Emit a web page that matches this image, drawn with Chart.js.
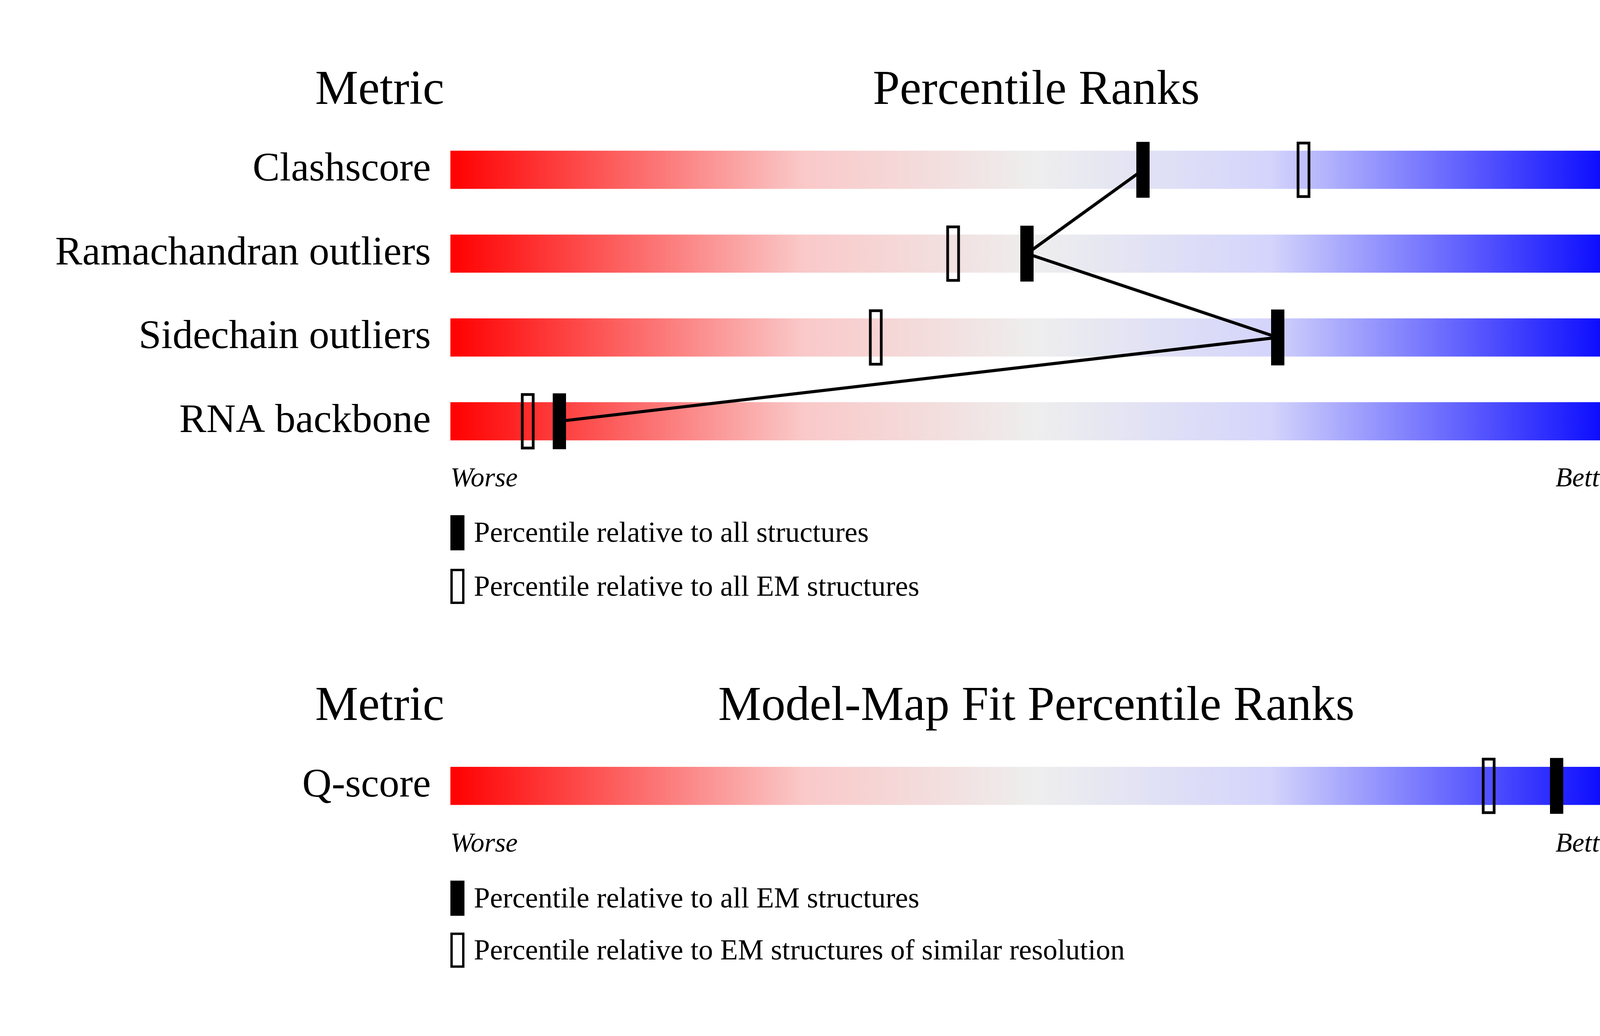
<!DOCTYPE html>
<html><head><meta charset="utf-8">
<script src="https://cdn.jsdelivr.net/npm/chart.js@4"></script>
<style>html,body{margin:0;padding:0;background:#fff;overflow:hidden}#c{display:block;width:4485px;height:2652px}</style>
</head><body>
<canvas id="c" width="4485" height="2652"></canvas>
<script>
const metrics = ["Clashscore","Ramachandran outliers","Sidechain outliers","RNA backbone","Q-score"];
const values = ["5","0.1%","0.8%","0.16","0.617"];
const rows = [0,1,2,3,7.35];
const pctAll = [59.1,49.2,70.6,9.3,94.4];
const pctEM = [72.8,42.9,36.3,6.6,88.6];
const headers1 = ["Metric","Percentile Ranks","Value"];
const headers2 = ["Metric","Model-Map Fit Percentile Ranks","Value"];
const legend1 = ["Percentile relative to all structures","Percentile relative to all EM structures"];
const legend2 = ["Percentile relative to all EM structures","Percentile relative to EM structures of similar resolution"];

const F = "'Liberation Serif', serif";
function grad(ctx, area){
  const g = ctx.createLinearGradient(area.left,0,area.right,0);
  g.addColorStop(0,'rgb(255,0,0)');
  g.addColorStop(0.3,'rgb(250,200,200)');
  g.addColorStop(0.5,'rgb(238,238,238)');
  g.addColorStop(0.7,'rgb(212,212,252)');
  g.addColorStop(1,'rgb(0,0,255)');
  return g;
}
const deco = {
  id:'deco',
  afterDatasetsDraw(chart){
    const c = chart.ctx, xs = chart.scales.x, ys = chart.scales.y;
    const X = v=>xs.getPixelForValue(v), Y = v=>ys.getPixelForValue(v);
    const L = X(0), R = X(100);
    c.save();
    const mw=34, mh=143;
    rows.forEach((r,i)=>{
      const ye=Y(r);
      c.lineWidth=7; c.strokeStyle='#000';
      c.strokeRect(X(pctEM[i])-mw/2+3, ye-mh/2+3, mw-6, mh-6);
      c.fillStyle='#000';
      c.fillRect(X(pctAll[i])-mw/2, ye-mh/2, mw, mh);
    });
    c.fillStyle='#000'; c.textBaseline='middle';
    c.font = `104px ${F}`;
    rows.forEach((r,i)=>{
      c.textAlign='right'; c.fillText(metrics[i], L-50, Y(r));
      c.textAlign='left'; c.fillText(values[i], R+50, Y(r));
    });
    c.font = `124px ${F}`; c.textAlign='center';
    [[-0.94,headers1],[6.41,headers2]].forEach(([r,h])=>{
      c.fillText(h[0], 972, Y(r));
      c.fillText(h[1], (L+R)/2, Y(r));
      c.fillText(h[2], 4319, Y(r));
    });
    c.font = `italic 70px ${F}`;
    [3.69,8.05].forEach(r=>{
      c.textAlign='left'; c.fillText('Worse', L, Y(r));
      c.textAlign='right'; c.fillText('Better', R, Y(r));
    });
    c.font = `74px ${F}`; c.textAlign='left';
    [[4.33,4.97,legend1],[8.69,9.31,legend2]].forEach(([a,b,t])=>{
      c.fillStyle='#000';
      c.fillRect(L, Y(a)-45, 36, 90);
      c.fillText(t[0], L+60, Y(a)+4);
      c.lineWidth=6; c.strokeRect(L+3, Y(b)-42, 30, 84);
      c.fillText(t[1], L+60, Y(b)+4);
    });
    c.restore();
  }
};
new Chart(document.getElementById('c'),{
  data:{datasets:[
    {type:'bar', data: rows.map(r=>({x:[0,100], y:r})), barThickness:97,
     backgroundColor: ctx=>{const a=ctx.chart.chartArea; return a?grad(ctx.chart.ctx,a):'#ccc';}, order:2},
    {type:'line', data: rows.slice(0,4).map((r,i)=>({x:pctAll[i], y:r})), borderColor:'#000',
     borderWidth:8, pointRadius:0, fill:false, order:1}
  ]},
  options:{
    indexAxis:'y', responsive:false, maintainAspectRatio:false, animation:false, devicePixelRatio:1,
    layout:{padding:{left:1153,right:332,top:0,bottom:0}},
    plugins:{legend:{display:false},tooltip:{enabled:false}},
    scales:{
      x:{type:'linear',min:0,max:100,display:false},
      y:{type:'linear',min:-1.143,max:9.451,reverse:true,display:false}
    }
  },
  plugins:[deco]
});
</script>
</body></html>
